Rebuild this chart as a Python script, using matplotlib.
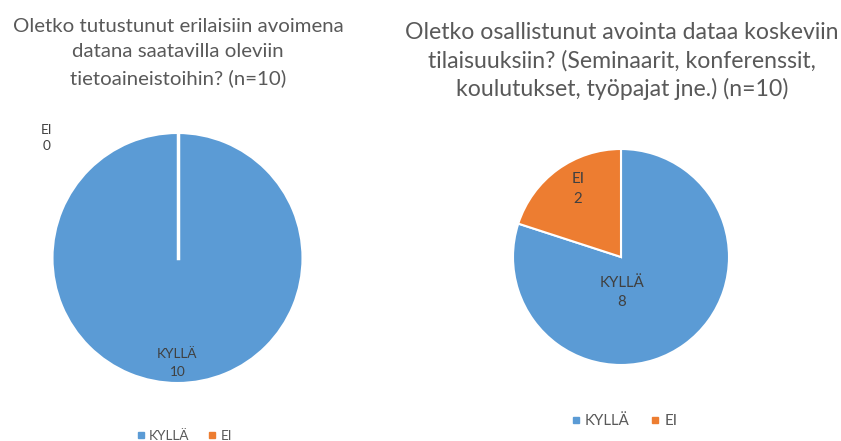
import matplotlib
matplotlib.use("Agg")
import matplotlib.pyplot as plt
from matplotlib.lines import Line2D

plt.rcParams['font.family'] = ['Lato', 'DejaVu Sans']

categories = ["KYLLÄ", "EI"]
left_values = [10, 0]
right_values = [8, 2]
left_title = "Oletko tutustunut erilaisiin avoimena\ndatana saatavilla oleviin\ntietoaineistoihin? (n=10)"
right_title = "Oletko osallistunut avointa dataa koskeviin\ntilaisuuksiin? (Seminaarit, konferenssit,\nkoulutukset, työpajat jne.) (n=10)"

colors = ["#5B9BD5", "#ED7D31"]
title_color = "#595959"
label_color = "#404040"

W, H = 841, 441
fig = plt.figure(figsize=(W / 100, H / 100), dpi=100)
fig.patch.set_facecolor("white")


def make_ax(cx, cy, r):
    return fig.add_axes([(cx - r) / W, 1 - (cy + r) / H, 2 * r / W, 2 * r / H])


# Left pie
axL = make_ax(177.5, 258, 125)
vals = [v for v in left_values if v > 0]
cols = [c for v, c in zip(left_values, colors) if v > 0]
axL.pie(vals, colors=cols, startangle=90, counterclock=False, radius=1,
        wedgeprops=dict(edgecolor="white", linewidth=1.5))
axL.plot([0, 0], [0, 1], color="white", lw=2.5)
axL.set_xlim(-1, 1); axL.set_ylim(-1, 1); axL.set_aspect("equal"); axL.axis("off")
left_label_pos = [(0, -0.84), (-1.05, 0.96)]
for (x, y), cat, v in zip(left_label_pos, categories, left_values):
    axL.text(x, y, f"{cat}\n{v}", ha="center", va="center", fontsize=9.8,
             color=label_color, linespacing=1.5, clip_on=False)

# Right pie
axR = make_ax(621, 257, 108)
axR.pie(right_values, colors=colors, startangle=90, counterclock=False, radius=1,
        wedgeprops=dict(edgecolor="white", linewidth=1.5))
axR.set_xlim(-1, 1); axR.set_ylim(-1, 1); axR.set_aspect("equal"); axR.axis("off")
right_label_pos = [(0.01, -0.33), (-0.40, 0.63)]
for (x, y), cat, v in zip(right_label_pos, categories, right_values):
    axR.text(x, y, f"{cat}\n{v}", ha="center", va="center", fontsize=10.8,
             color=label_color, linespacing=1.5, clip_on=False)

# Titles
fig.text(178 / W, 1 - 18 / H, left_title, ha="center", va="top", fontsize=14.7,
         color=title_color, linespacing=1.6)
fig.text(622 / W, 1 - 22 / H, right_title, ha="center", va="top", fontsize=16.6,
         color=title_color, linespacing=1.38)

# Legends
handles = [Line2D([], [], marker="s", linestyle="none", markersize=5,
                  markerfacecolor=c, markeredgecolor=c) for c in colors]
fig.legend(handles, categories, loc="center", bbox_to_anchor=(183 / W, 1 - 436 / H),
           ncol=2, frameon=False, fontsize=9.8, handletextpad=0.1, columnspacing=1.2,
           labelcolor=title_color, handlelength=1.0)
fig.legend(handles, categories, loc="center", bbox_to_anchor=(623 / W, 1 - 421 / H),
           ncol=2, frameon=False, fontsize=10.8, handletextpad=0.1, columnspacing=1.2,
           labelcolor=title_color, handlelength=1.0)

fig.savefig("out.png", dpi=100, facecolor="white")
